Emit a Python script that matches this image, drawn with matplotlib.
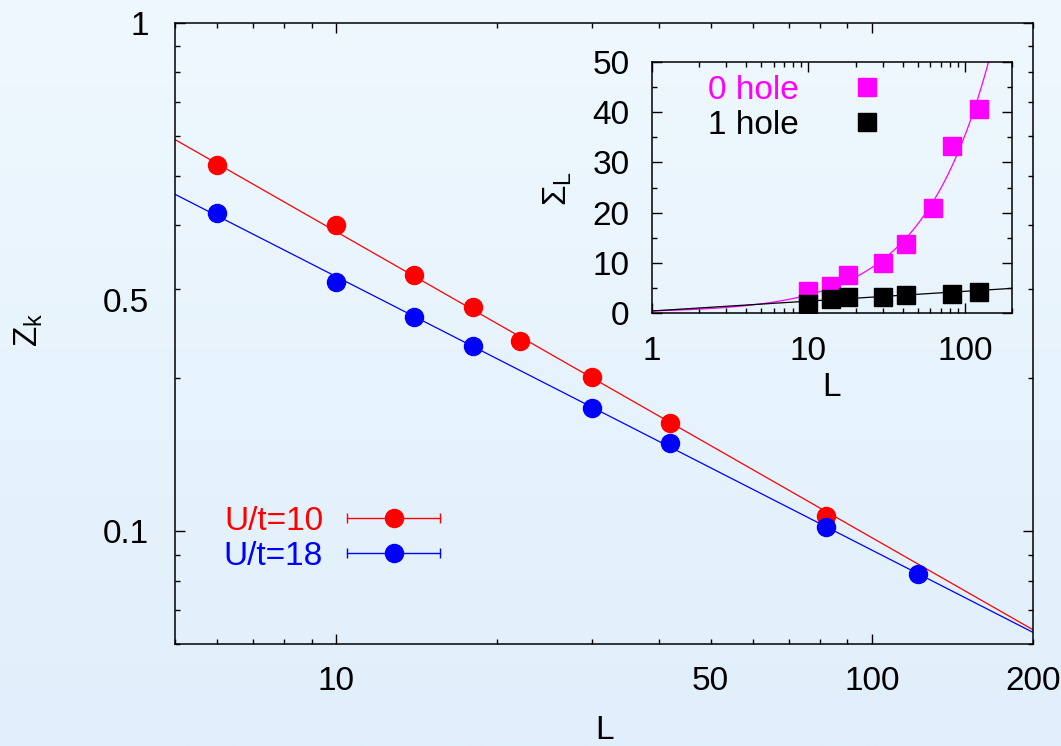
import numpy as np
import matplotlib
matplotlib.use("Agg")
import matplotlib.pyplot as plt
from matplotlib.lines import Line2D
from matplotlib.legend_handler import HandlerLine2D, HandlerTuple
from matplotlib.ticker import LogLocator, NullFormatter, FuncFormatter, MultipleLocator

plt.rcParams['font.family'] = ['Liberation Sans', 'DejaVu Sans']
plt.rcParams['mathtext.fontset'] = 'custom'
plt.rcParams['mathtext.rm'] = 'Liberation Sans'
FS = 24

# main panel: Z_k vs L (log-log)
L_u10 = [6, 10, 14, 18, 22, 30, 42, 82]
Z_u10 = [0.525, 0.400, 0.320, 0.276, 0.237, 0.201, 0.163, 0.107]
L_u18 = [6, 10, 14, 18, 30, 42, 82, 122]
Z_u18 = [0.423, 0.310, 0.264, 0.231, 0.175, 0.149, 0.102, 0.0825]
# power-law fits Z = A * L^-alpha
fit_u10 = (1.554, 0.602)
fit_u18 = (1.094, 0.538)

# inset: Sigma_L vs L
L_0h = [10, 14, 18, 30, 42, 62, 82, 122]
S_0h = [4.4, 5.3, 7.5, 10.0, 13.7, 21.0, 33.3, 40.7]
L_1h = [10, 14, 18, 30, 42, 82, 122]
S_1h = [1.7, 2.7, 3.1, 3.2, 3.5, 3.7, 4.2]
fit_0h = 0.355           # S = c * L
fit_1h = (0.35, 0.853)   # S = a + b ln L

RED, BLUE, MAG = '#ff0000', '#0000ff', '#ff00ff'

fig = plt.figure(figsize=(10.61, 7.46), dpi=100)

# light blue gradient background
bg = fig.add_axes([0, 0, 1, 1], zorder=-10)
top = np.array([239, 248, 254]) / 255
bot = np.array([224, 239, 251]) / 255
t = np.linspace(0, 1, 256)[:, None]
grad = (top[None, :] * (1 - t) + bot[None, :] * t)[:, None, :]
bg.imshow(grad, aspect='auto', extent=[0, 1, 0, 1])
bg.axis('off')

ax = fig.add_axes([0.1649, 0.1367, 0.8087, 0.8325])
ax.set_facecolor('none')
ax.set_xscale('log')
ax.set_yscale('log')
ax.set_xlim(5, 200)
ax.set_ylim(0.06, 1)

xf = np.array([5, 200])
ax.plot(xf, fit_u10[0] * xf ** -fit_u10[1], color=RED, lw=0.9)
ax.plot(xf, fit_u18[0] * xf ** -fit_u18[1], color=BLUE, lw=0.9)
ax.plot(L_u10, Z_u10, 'o', color=RED, ms=13, zorder=3)
ax.plot(L_u18, Z_u18, 'o', color=BLUE, ms=13, zorder=3)

ax.set_xticks([10, 100], ['10', '100'])
ax.xaxis.set_minor_locator(LogLocator(base=10, subs=np.arange(2, 10)))
ax.xaxis.set_minor_formatter(FuncFormatter(
    lambda v, p: '%d' % round(v) if any(np.isclose(v, [50, 200])) else ''))
ax.set_yticks([0.1, 1], ['0.1', '1'])
ax.yaxis.set_minor_locator(LogLocator(base=10, subs=np.arange(2, 10)))
ax.yaxis.set_minor_formatter(NullFormatter())
ax.tick_params(which='both', direction='in', top=True, right=True,
               labelsize=FS, width=1.0)
ax.tick_params(which='major', length=7)
ax.tick_params(which='minor', length=3.6)
ax.tick_params(axis='x', which='both', pad=16)
ax.tick_params(axis='y', which='both', pad=19)
for s in ax.spines.values():
    s.set_linewidth(1.1)
# stray "0.5" label as in the original
ax.annotate('0.5', xy=(0, 0.28), xycoords=('axes fraction', 'data'),
            xytext=(-19, 0), textcoords='offset points',
            ha='right', va='center', fontsize=FS)

ax.set_xlabel('L', fontsize=FS, va='center')
ax.xaxis.set_label_coords(0.501, -0.140)
ax.set_ylabel(r'Z$_\mathregular{k}$', fontsize=FS, va='center')
ax.yaxis.set_label_coords(-0.171, 0.506)

# gnuplot style key: label, then errorbar sample
cap_r = Line2D([], [], color=RED, lw=1, marker='|', ms=6.5, mew=1)
cap_b = Line2D([], [], color=BLUE, lw=1, marker='|', ms=6.5, mew=1)
dot_r = Line2D([], [], ls='none', marker='o', color=RED, ms=13)
dot_b = Line2D([], [], ls='none', marker='o', color=BLUE, ms=13)
hcap = HandlerLine2D(numpoints=2, marker_pad=0)
leg = ax.legend([(cap_r, dot_r), (cap_b, dot_b)], ['U/t=10', 'U/t=18'],
                handler_map={cap_r: hcap, cap_b: hcap, tuple: HandlerTuple(ndivide=1)},
                markerfirst=False, frameon=False, fontsize=FS,
                handlelength=2.79, handletextpad=0.72, labelspacing=0.11,
                borderpad=0, borderaxespad=0, loc='upper right',
                bbox_to_anchor=(440 / 1061, 1 - 506 / 746),
                bbox_transform=fig.transFigure)
for txt, c in zip(leg.get_texts(), [RED, BLUE]):
    txt.set_color(c)

# inset
ins = fig.add_axes([0.6142, 0.5808, 0.3399, 0.3357])
ins.set_facecolor('none')
ins.set_xscale('log')
ins.set_xlim(1, 200)
ins.set_ylim(0, 50)
xs = np.logspace(0, np.log10(200), 300)
ins.plot(xs, fit_0h * xs, color=MAG, lw=0.9)
ins.plot(xs, fit_1h[0] + fit_1h[1] * np.log(xs), color='black', lw=0.9)
ins.plot(L_0h, S_0h, 's', color=MAG, ms=12.7, zorder=3)
ins.plot(L_1h, S_1h, 's', color='black', ms=12.7, zorder=3)

ins.set_xticks([1, 10, 100], ['1', '10', '100'])
ins.xaxis.set_minor_locator(LogLocator(base=10, subs=np.arange(2, 10)))
ins.xaxis.set_minor_formatter(NullFormatter())
ins.yaxis.set_major_locator(MultipleLocator(10))
ins.yaxis.set_minor_locator(MultipleLocator(5))
ins.tick_params(which='both', direction='in', top=True, right=True,
                labelsize=FS, width=1.0)
ins.tick_params(which='major', length=7)
ins.tick_params(which='minor', length=3.6)
ins.tick_params(axis='x', which='both', pad=17)
ins.tick_params(axis='y', which='both', pad=16)
for s in ins.spines.values():
    s.set_linewidth(1.1)
ins.set_xlabel('L', fontsize=FS, va='center')
ins.xaxis.set_label_coords(0.5, -0.297)
ins.set_ylabel(r'$\Sigma_\mathregular{L}$', fontsize=FS, va='center')
ins.yaxis.set_label_coords(-0.26, 0.498)

sq_m = Line2D([], [], ls='none', marker='s', color=MAG, ms=12.7)
sq_k = Line2D([], [], ls='none', marker='s', color='black', ms=12.7)
leg2 = ins.legend([sq_m, sq_k], ['0 hole', '1 hole'], markerfirst=False,
                  frameon=False, fontsize=FS, handlelength=1.3,
                  handletextpad=1.41, labelspacing=0.11, borderpad=0,
                  borderaxespad=0, loc='upper right',
                  bbox_to_anchor=(889 / 1061, 1 - 75 / 746),
                  bbox_transform=fig.transFigure)
for txt, c in zip(leg2.get_texts(), [MAG, 'black']):
    txt.set_color(c)

fig.savefig('out.png', dpi=100)
